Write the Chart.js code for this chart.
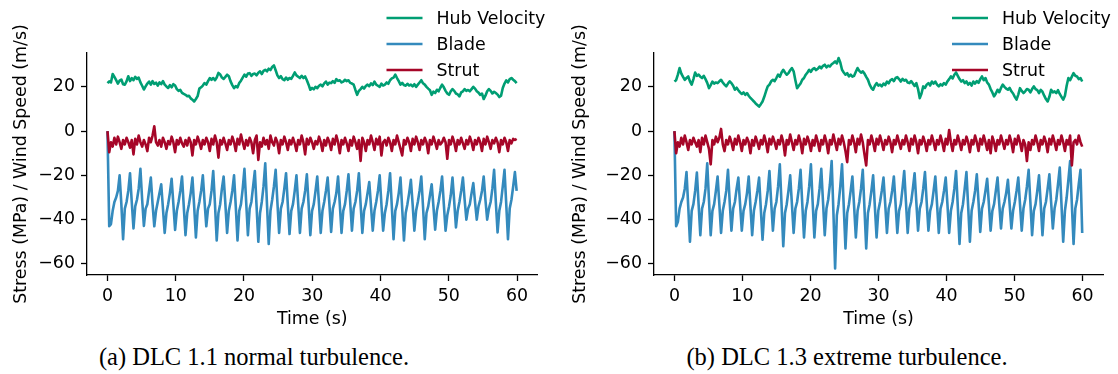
<!DOCTYPE html>
<html>
<head>
<meta charset="utf-8">
<script src="https://cdn.jsdelivr.net/npm/chart.js@4/dist/chart.umd.min.js"></script>
<style>
  body { margin: 0; background: #fff; }
  #fig { position: relative; width: 1118px; height: 374px; overflow: hidden; }
  canvas { position: absolute; top: 0; }
  .cap { position: absolute; top: 343px; font-family: "Liberation Serif", serif; font-size: 24.5px;
         color: #000; white-space: nowrap; transform: translateX(-50%); }
</style>
</head>
<body>
<div id="fig">
  <canvas id="dlc11" width="559" height="330" style="left:0"></canvas>
  <canvas id="dlc13" width="559" height="330" style="left:559px"></canvas>
  <div class="cap" style="left:254px">(a) DLC 1.1 normal turbulence.</div>
  <div class="cap" style="left:847px">(b) DLC 1.3 extreme turbulence.</div>
</div>
<script>
// sample spacing of every series (s)
const dt = 0.254

const seriesNames = ['Hub Velocity', 'Blade', 'Strut']
const seriesColors = ['#009E73', '#348ABD', '#A60628']
const xTicks = [0, 10, 20, 30, 40, 50, 60]
const yTicks = [-60, -40, -20, 0, 20]

// DLC 1.1
const hubA = [
  21.7, 22.5, 22.0, 25.8, 24.5, 23.0, 21.5, 22.8, 23.3, 21.2,
  21.0, 22.5, 24.8, 22.6, 24.0, 23.0, 24.5, 23.6, 24.2, 22.0,
  20.5, 18.8, 20.2, 21.5, 22.4, 21.0, 22.6, 21.3, 21.9, 20.6,
  22.0, 21.2, 22.6, 21.0, 20.2, 19.5, 20.8, 19.8, 21.2, 20.6,
  19.0, 18.2, 18.6, 17.3, 16.8, 16.4, 15.8, 16.0, 14.8, 14.2,
  13.4, 14.5, 15.8, 19.2, 19.8, 20.6, 21.7, 21.0, 22.6, 24.0,
  23.2, 24.0, 23.0, 24.2, 26.3, 25.6, 24.2, 23.6, 24.5, 25.5,
  24.8, 22.5, 20.8, 19.4, 20.3, 19.8, 21.7, 22.8, 24.2, 25.5,
  24.6, 26.0, 26.2, 25.0, 25.8, 26.0, 25.2, 26.4, 27.0, 25.8,
  27.2, 27.7, 27.0, 28.2, 27.6, 29.0, 29.7, 27.5, 25.2, 24.0,
  24.8, 23.5, 23.0, 24.2, 23.2, 24.0, 23.6, 25.0, 26.5, 25.2,
  24.6, 24.0, 25.0, 24.0, 24.7, 23.0, 21.0, 18.7, 19.5, 18.9,
  20.0, 19.4, 20.5, 21.0, 20.2, 21.6, 22.4, 21.0, 21.9, 21.7,
  22.6, 21.8, 23.5, 22.7, 23.0, 22.0, 22.4, 23.2, 22.6, 23.0,
  21.8, 21.5, 21.0, 18.6, 16.4, 18.2, 19.0, 20.0, 19.2, 20.4,
  21.0, 20.3, 21.6, 20.8, 22.4, 21.0, 20.5, 20.0, 21.5, 20.6,
  21.0, 22.0, 21.4, 23.0, 23.8, 24.2, 25.5, 24.0, 22.6, 21.0,
  21.8, 20.8, 20.5, 21.4, 20.6, 21.0, 20.2, 21.2, 20.0, 21.0,
  22.0, 23.0, 21.6, 21.0, 20.0, 19.2, 18.5, 16.4, 17.8, 17.2,
  18.7, 18.0, 19.6, 21.0, 19.8, 18.2, 17.0, 16.4, 18.0, 19.0,
  18.2, 17.0, 16.6, 15.7, 17.5, 18.0, 19.0, 18.2, 18.6, 18.0,
  19.0, 20.0, 19.2, 18.0, 17.4, 16.4, 17.0, 14.5, 16.0, 18.0,
  19.0, 18.2, 17.0, 17.8, 17.2, 16.5, 15.4, 16.0, 19.5, 21.5,
  22.9, 22.0, 23.5, 24.0, 23.2, 22.6, 21.7
]
const bladeA = [
  0, -43, -42, -36, -32, -30, -27,
  -20, -33, -48.8, -35, -32, -27,
  -19, -32, -44, -34, -31, -26,
  -17, -31, -42.8, -35, -33, -27,
  -21, -33, -43, -36, -32, -28,
  -24, -35, -46, -37, -33, -28,
  -21.5, -33, -44.6, -36, -32, -27,
  -20.5, -34, -47, -37, -33, -28,
  -21, -34, -48, -36, -32, -27,
  -20, -32, -43, -35, -33, -27,
  -18, -33, -49.4, -37, -33, -26,
  -20.5, -33, -46, -36, -32, -27,
  -20, -34, -49.4, -36, -33, -26,
  -17, -32, -47, -35, -32, -25,
  -18, -34, -50, -37, -32, -25,
  -14.5, -33, -51, -36, -31, -25,
  -17.5, -32, -46, -35, -32, -26,
  -19, -33, -46.5, -36, -33, -27,
  -20, -33, -46, -35, -32, -27,
  -19.5, -33, -47, -36, -33, -27,
  -20.5, -33, -46, -36, -32, -27,
  -21, -33, -45.5, -35, -32, -28,
  -20.5, -33, -46, -36, -33, -27,
  -19.5, -32, -45, -35, -32, -27,
  -19, -33, -46, -36, -33, -28,
  -23, -34, -45, -36, -32, -27,
  -20, -33, -45, -37, -33, -27,
  -19, -34, -48.8, -36, -33, -28,
  -21, -35, -49.4, -37, -33, -28,
  -22, -33, -45, -36, -32, -27,
  -20.5, -34, -48.8, -37, -34, -29,
  -24, -34, -44.5, -36, -32, -27,
  -20.5, -33, -45, -38, -34, -29,
  -21, -32, -43.5, -36, -32, -27,
  -21, -31, -40, -35, -33, -28,
  -23.5, -32, -40, -34, -31, -27,
  -20.5, -31, -40, -35, -32, -26,
  -17.5, -32, -45.8, -36, -32, -25,
  -17.5, -33, -48.8, -35, -31, -25,
  -18.5, -27
]
const strutA = [
  0, -9.5, -5, -7, -3, -6, -2.5, -5, -8, -4,
  -6, -3, -5, -7.5, -4, -10.5, -3.5, -6, -2, -5,
  -7, -4, -6, -9, -3, -5, -2, 2.2, -5, -6.5,
  -4, -7, -3, -5, -8, -4.5, -6, -2.5, -5, -9.5,
  -4, -6, -3, -5.5, -7, -4, -6.5, -3, -5, -11,
  -4, -6, -2.5, -5, -8, -4, -6, -3, -5, -9,
  -3.5, -6, -2, -5, -12, -4, -6, -3, -5.5, -8.5,
  -4, -6, -2.5, -5, -9, -3.5, -6, -1.5, -5, -8,
  -4, -6.5, -3, -5, -10, -4, -2, -13, -5, -7,
  -3, -6, -4, -8, -2, -5, -6.5, -3, -5, -10,
  -4, -6, -2.5, -5, -8.5, -4, -6, -3, -5.5, -9,
  -4, -6, -2, -5, -10.5, -3.5, -6, -3, -5, -8,
  -4.5, -6, -2.5, -5, -9, -4, -6.5, -3, -5, -8.5,
  -3.5, -6, -2, -5, -10, -4, -6, -3, -5.5, -9,
  -4, -6.5, -2.5, -5, -8, -4, -13.5, -3, -5, -9,
  -4, -6, -2, -5, -8.5, -3.5, -6, -2.5, -11, -5,
  -4, -6.5, -3, -5, -9, -4, -6, -2, -5, -8,
  -11, -4, -6, -3, -5, -9, -3.5, -6, -2.5, -5,
  -8.5, -4, -6, -3, -5, -10, -4, -6, -2.5, -5,
  -8, -4, -6, -5, -3, -5, -12.5, -4, -6, -2.5,
  -5, -9, -4, -6, -3, -5.5, -8, -4, -6, -2.5,
  -5, -8.5, -4, -6, -3, -5, -9, -3.5, -6, -2.5,
  -5, -8, -4, -5.5, -3, -5, -9.5, -4, -6, -3,
  -5, -9, -4, -5.5, -3.5, -4, -3.5
]

// DLC 1.3
const hubB = [
  22.4, 23.0, 25.5, 28.5, 26.0, 24.5, 23.2, 24.0, 24.7, 22.5,
  21.0, 23.5, 26.5, 25.0, 25.5, 24.6, 24.0, 25.0, 23.5, 21.8,
  19.4, 20.8, 22.4, 21.5, 22.0, 21.7, 22.5, 23.2, 22.0, 21.0,
  20.2, 21.5, 22.5, 21.7, 20.5, 18.7, 19.6, 18.5, 17.5, 16.8,
  17.5, 16.4, 17.2, 16.0, 15.0, 14.2, 13.4, 12.5, 11.8, 11.1,
  12.2, 13.4, 15.5, 18.0, 20.2, 21.0, 22.5, 23.2, 22.6, 24.0,
  25.5, 24.6, 26.5, 27.7, 26.5, 25.5, 26.2, 27.5, 28.5, 27.0,
  23.0, 19.4, 20.5, 21.5, 23.2, 24.0, 25.5, 26.5, 27.7, 26.8,
  28.0, 28.5, 27.6, 28.2, 29.2, 28.4, 29.5, 30.0, 28.8, 29.6,
  29.2, 30.2, 30.8, 31.5, 30.6, 33.0, 31.0, 27.7, 26.5, 25.5,
  26.2, 24.7, 25.5, 24.6, 25.0, 26.8, 28.5, 27.2, 26.4, 27.0,
  26.0, 24.5, 23.2, 21.0, 19.5, 18.7, 20.5, 21.7, 20.6, 21.0,
  20.2, 21.5, 20.8, 22.4, 21.6, 23.0, 23.5, 22.6, 24.0, 24.4,
  23.5, 22.4, 23.6, 22.8, 23.2, 22.0, 21.7, 22.6, 21.5, 20.4,
  21.7, 19.0, 14.9, 17.0, 20.2, 19.5, 21.0, 21.7, 20.6, 22.4,
  21.5, 22.4, 21.0, 20.2, 21.2, 20.6, 21.7, 21.0, 22.5, 23.5,
  24.7, 23.8, 25.5, 26.5, 25.0, 23.5, 22.4, 23.0, 21.7, 22.5,
  21.0, 21.8, 20.6, 22.4, 21.5, 22.6, 21.8, 23.5, 24.7, 23.0,
  24.0, 22.0, 21.0, 19.0, 17.5, 15.7, 17.0, 18.7, 17.6, 19.5,
  21.0, 20.0, 19.2, 18.7, 19.5, 18.0, 17.0, 15.5, 14.2, 16.5,
  19.4, 18.2, 17.2, 18.0, 19.0, 18.7, 17.5, 19.0, 20.2, 19.0,
  18.5, 17.2, 18.6, 17.8, 16.0, 14.5, 13.4, 15.5, 18.7, 17.5,
  18.0, 17.2, 18.5, 16.8, 15.5, 14.2, 16.0, 20.5, 24.0, 23.0,
  24.6, 26.2, 25.0, 24.7, 23.5, 24.0, 22.4
]
const bladeB = [
  0, -43, -41, -35, -32, -30, -26,
  -18.5, -34, -50, -36, -33, -27,
  -18.7, -33, -47, -35, -32, -26,
  -14.5, -31, -47, -36, -33, -27,
  -20.5, -33, -46, -36, -32, -27,
  -17.5, -32, -45, -35, -32, -26,
  -21, -33, -45, -36, -33, -28,
  -20.5, -34, -47, -36, -32, -27,
  -21, -35, -49, -37, -33, -27,
  -18, -32, -45, -35, -32, -25,
  -15, -33, -52, -37, -33, -27,
  -20, -33, -46, -35, -32, -26,
  -17.5, -33, -48, -36, -32, -25,
  -15, -32, -48, -36, -33, -26,
  -17, -32, -47, -35, -31, -24,
  -13.5, -36, -62, -38, -33, -25,
  -15, -34, -53, -37, -33, -27,
  -20.5, -34, -48, -36, -32, -26,
  -17.5, -35, -53, -37, -33, -27,
  -20, -34, -48, -36, -32, -27,
  -21, -33, -46, -35, -32, -27,
  -20.5, -33, -46, -36, -33, -26,
  -18, -32, -46, -35, -32, -26,
  -19, -32, -45, -35, -32, -26,
  -18.5, -32, -45, -36, -33, -27,
  -20.5, -33, -46, -35, -32, -27,
  -21, -33, -46, -36, -32, -26,
  -18, -34, -51, -37, -33, -26,
  -18.5, -34, -50, -36, -32, -27,
  -19.5, -32, -45.5, -35, -32, -27,
  -21.5, -33, -45, -36, -33, -27,
  -21, -33, -44, -35, -32, -28,
  -22, -33, -44, -36, -32, -27,
  -21, -33, -45, -35, -31, -25,
  -17.5, -32, -47, -36, -33, -27,
  -20, -33, -47, -35, -32, -26,
  -19.5, -32, -44, -35, -31, -24,
  -16.5, -33, -50, -36, -30, -22,
  -13.5, -33, -51, -35, -31, -24,
  -17.5, -46
]
const strutB = [
  0, -10, -5, -7, -3, -6, -2, -5, -8.5, -4,
  -6, -3, -5, -7, -4, -9.5, -3, -6, -2, -5,
  -8, -15, -4, -6, -2.5, -5, -3, 1, -6, -9,
  -4, -6, -2.5, -5, -8.5, -3.5, -6, -2, -5, -9,
  -4, -6, -3, -5, -10, -4, -6.5, -2.5, -5, -8,
  -4, -6, -2, -5, -9.5, -3.5, -6, -2.5, -5, -8,
  -4, -6, -2, -5, -11, -4, -6, -1.5, -5, -8.5,
  -4, -6, -2, -5, -10, -3.5, -6, -2.5, -5, -9,
  -4, -6.5, -2, -5, -9, -4, -6, -2, -5, -10,
  -4, -6, -1.5, -5, -8.5, -3.5, -6, -2, -5, -9,
  -14, -4, -6, -2, -5, -9.5, -3.5, -6, -1.5, -5,
  -10.5, -15.5, -4, -6, -2, -5, -9, -3.5, -6, -2,
  -5, -8.5, -4, -6, -2.5, -5, -9.5, -4, -6, -2,
  -5, -8, -4, -6, -2, -5, -9, -3.5, -6, -2,
  -5, -10, -4, -6, -2.5, -5, -9, -4, -6, -2,
  -5, -8.5, -4, -6, -2, -5, -9, -3.5, -6, 0.5,
  -5, -9, -4, -6, -2, -5, -8.5, -4, -6, -2.5,
  -5, -9.5, -4, -6, -2, -5, -9, -3.5, -6, -2,
  -5, -8.5, -4, -10, -2.5, -5, -9, -4, -6, -2,
  -5, -8, -4, -6, -2, -5, -9.5, -3.5, -6, -2,
  -5, -9, -4, -6, -13.5, -5, -8.5, -4, -6, -2,
  -5, -9, -4, -6, -2.5, -5, -9.5, -3.5, -6, -2,
  -5, -8.5, -4, -6, -2, -5, -9, -4, -6, -2,
  -15.5, -5, -4, -6, -2, -5, -7
]

const font = { family: 'DejaVu Sans', size: 17.4 }

function toPoints(values) {
  return values.map((v, i) => ({ x: i * dt, y: v }))
}

function minusSign(v) {
  return String(v).replace('-', '\u2212')
}

// legend drawn by hand so it can sit above the plot area, one entry per row
const stackedLegend = {
  id: 'stackedLegend',
  afterDraw(chart) {
    const ctx = chart.ctx
    const right = chart.chartArea.right
    ctx.save()
    ctx.font = '17.4px "DejaVu Sans"'
    ctx.textBaseline = 'middle'
    chart.data.datasets.forEach((ds, i) => {
      const y = 18 + 26 * i
      ctx.strokeStyle = ds.borderColor
      ctx.lineWidth = 2.6
      ctx.beginPath()
      ctx.moveTo(right - 151, y)
      ctx.lineTo(right - 115, y)
      ctx.stroke()
      ctx.fillStyle = '#000'
      ctx.fillText(ds.label, right - 101, y + 1)
    })
    ctx.restore()
  }
}

function makeChart(id, hub, blade, strut, leftWidth, rightPad) {
  const series = [hub, blade, strut]
  return new Chart(document.getElementById(id), {
    type: 'line',
    data: {
      datasets: series.map((vals, i) => ({
        label: seriesNames[i],
        data: toPoints(vals),
        borderColor: seriesColors[i],
        borderWidth: 2.6,
        pointRadius: 0,
        tension: 0,
        borderJoinStyle: 'round',
        order: 2 - i
      }))
    },
    options: {
      responsive: false,
      devicePixelRatio: 1,
      animation: false,
      layout: { padding: { top: 53, right: rightPad, left: 0, bottom: 0 } },
      plugins: { legend: { display: false }, tooltip: { enabled: false } },
      scales: {
        x: {
          type: 'linear',
          min: -3,
          max: 63,
          afterBuildTicks: axis => { axis.ticks = xTicks.map(v => ({ value: v })) },
          afterFit: axis => { axis.height = 55 },
          ticks: { color: '#000', font: font, padding: 5, maxRotation: 0, callback: minusSign },
          grid: { drawOnChartArea: false, drawTicks: true, tickLength: 6, tickColor: '#000', tickWidth: 1.3 },
          border: { display: true, color: '#000', width: 1.3 },
          title: { display: true, text: 'Time (s)', color: '#000', font: font, padding: { top: 0, bottom: 0 } }
        },
        y: {
          type: 'linear',
          min: -65,
          max: 35.3,
          afterBuildTicks: axis => { axis.ticks = yTicks.map(v => ({ value: v })) },
          afterFit: axis => { axis.width = leftWidth },
          ticks: { color: '#000', font: font, padding: 6, callback: minusSign },
          grid: { drawOnChartArea: false, drawTicks: true, tickLength: 6, tickColor: '#000', tickWidth: 1.3 },
          border: { display: true, color: '#000', width: 1.3 },
          title: { display: true, text: 'Stress (MPa) / Wind Speed (m/s)', color: '#000', font: font, padding: { top: 11, bottom: 0 } }
        }
      }
    },
    plugins: [stackedLegend]
  })
}

makeChart('dlc11', hubA, bladeA, strutA, 87, 21.5)
makeChart('dlc13', hubB, bladeB, strutB, 95, 15)
</script>
</body>
</html>
